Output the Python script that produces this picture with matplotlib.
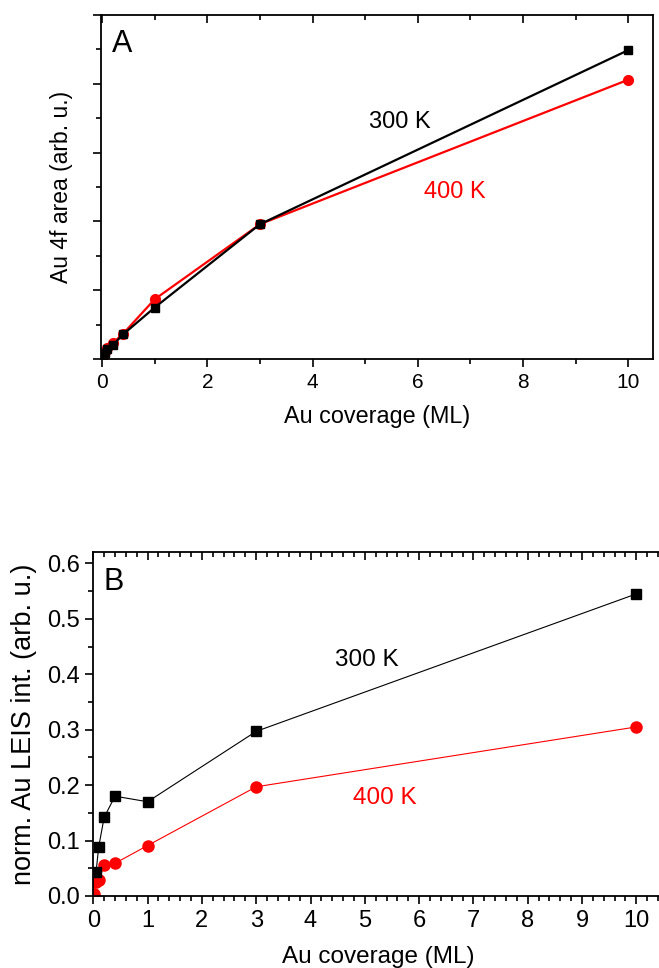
import numpy as np
import matplotlib
matplotlib.use("Agg")
import matplotlib.pyplot as plt
from matplotlib.ticker import MultipleLocator, NullFormatter

plt.rcParams['font.family'] = ['Liberation Sans', 'DejaVu Sans']

# panel A: XPS Au 4f area
xA_300 = [0.02, 0.05, 0.1, 0.2, 0.4, 1, 3, 10]
yA_300 = [0.04, 0.09, 0.14, 0.2, 0.36, 0.75, 1.96, 4.49]
xA_400 = [0.02, 0.05, 0.1, 0.2, 0.4, 1, 3, 10]
yA_400 = [0.05, 0.1, 0.16, 0.23, 0.37, 0.87, 1.96, 4.06]

# panel B: normalised LEIS intensity
xB_300 = [0.05, 0.1, 0.2, 0.4, 1, 3, 10]
yB_300 = [0.043, 0.089, 0.142, 0.18, 0.17, 0.297, 0.545]
xB_400 = [0.02, 0.05, 0.1, 0.2, 0.4, 1, 3, 10]
yB_400 = [0.003, 0.025, 0.029, 0.055, 0.059, 0.091, 0.197, 0.305]

fig = plt.figure(figsize=(6.59, 9.68), dpi=100)

def style_ax(ax, lsize):
    for s in ax.spines.values():
        s.set_linewidth(1.3)
    ax.tick_params(which='both', direction='out', width=1.2, labelsize=lsize)
    ax.tick_params(which='major', length=6)
    ax.tick_params(which='minor', length=3.5)
    ax.tick_params(axis='x', which='both', top=True, right=False)
    ax.tick_params(axis='x', which='major', pad=4)

# ---- A ----
axA = fig.add_axes([0.1533, 0.629, 0.8377, 0.3555])
axA.plot(xA_300, yA_300, '-s', color='black', lw=1.6, ms=6, zorder=3)
axA.plot(xA_400, yA_400, '-o', color='red', lw=1.6, ms=7, zorder=2)
axA.set_xlim(-0.02, 10.47)
axA.set_ylim(0, 5)
style_ax(axA, 15)
axA.xaxis.set_major_locator(MultipleLocator(2))
axA.xaxis.set_minor_locator(MultipleLocator(1))
axA.yaxis.set_major_locator(MultipleLocator(1))
axA.yaxis.set_minor_locator(MultipleLocator(0.5))
axA.yaxis.set_major_formatter(NullFormatter())
axA.set_xlabel('Au coverage (ML)', fontsize=16.8, labelpad=9)
axA.set_ylabel('Au 4f area (arb. u.)', fontsize=16.5, labelpad=11)
axA.text(5.66, 3.44, '300 K', fontsize=17, color='black', ha='center', va='center')
axA.text(6.7, 2.43, '400 K', fontsize=17, color='red', ha='center', va='center')
axA.text(0.02, 0.915, 'A', transform=axA.transAxes, fontsize=22, ha='left', va='center')

# ---- B ----
axB = fig.add_axes([0.1416, 0.0744, 0.8652, 0.3556])
axB.plot(xB_300, yB_300, '-s', color='black', lw=0.8, ms=7, zorder=3)
axB.plot(xB_400, yB_400, '-o', color='red', lw=0.8, ms=8, zorder=2)
axB.set_xlim(0, 10.5)
axB.set_ylim(0, 0.621)
style_ax(axB, 17)
axB.xaxis.set_major_locator(MultipleLocator(1))
axB.xaxis.set_minor_locator(MultipleLocator(0.2))
axB.yaxis.set_minor_locator(MultipleLocator(0.05))
axB.set_yticks(np.arange(0, 0.61, 0.1))
axB.set_yticklabels(['0.0', '0.1', '0.2', '0.3', '0.4', '0.5', '0.6'])
axB.set_xlabel('Au coverage (ML)', fontsize=17.5, labelpad=10)
axB.set_ylabel('norm. Au LEIS int. (arb. u.)', fontsize=19.5)
axB.yaxis.set_label_coords(-0.099, 0.5)
axB.text(5.04, 0.426, '300 K', fontsize=17.5, color='black', ha='center', va='center')
axB.text(5.37, 0.177, '400 K', fontsize=17.5, color='red', ha='center', va='center')
axB.text(0.018, 0.912, 'B', transform=axB.transAxes, fontsize=22, ha='left', va='center')

# top ticks point inward on both panels
for ax in (axA, axB):
    for t in ax.xaxis.get_major_ticks() + ax.xaxis.get_minor_ticks():
        t.tick2line.set_marker(3)

fig.savefig('out.png', dpi=100)
